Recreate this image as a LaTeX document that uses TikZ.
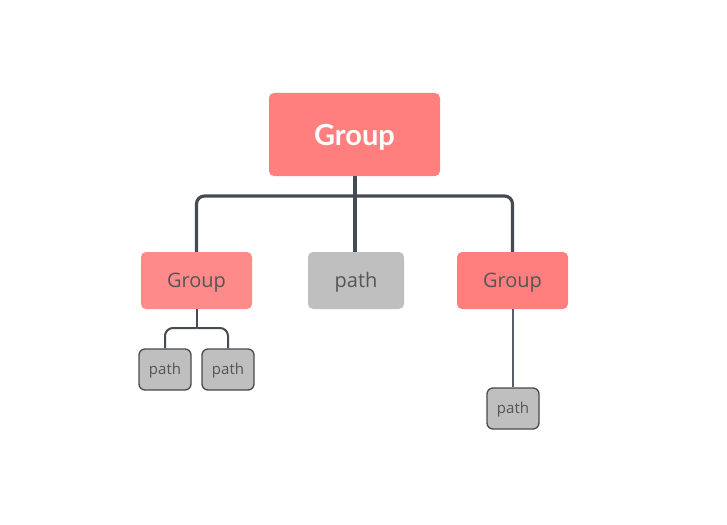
\documentclass[tikz,border=0pt]{standalone}
\usepackage{fontspec}
\setmainfont{Open Sans}
\newfontfamily\rootfont{Lato}
\definecolor{rootred}{HTML}{FF7F7F}
\definecolor{lightred}{HTML}{FF8A8A}
\definecolor{pathgray}{HTML}{BFBFBF}
\definecolor{linedark}{HTML}{454B52}
\definecolor{linemid}{HTML}{575E68}
\definecolor{txtgray}{HTML}{555555}
\newcommand{\dn}[2]{\raisebox{-#1pt}[\height][\depth]{#2}}
\begin{document}
\begin{tikzpicture}[x=1pt,y=-1pt,
  rootbox/.style={fill=rootred,rounded corners=5pt,inner sep=0pt,text=white,font=\rootfont\bfseries\fontsize{29}{33}\selectfont},
  groupbox/.style={rounded corners=5pt,inner sep=0pt,minimum width=111pt,minimum height=57pt,text=txtgray,font=\fontsize{20}{24}\selectfont},
  midpath/.style={fill=pathgray,rounded corners=5pt,inner sep=0pt,minimum width=96pt,minimum height=57pt,text=txtgray,font=\fontsize{20}{24}\selectfont},
  leafbox/.style={fill=pathgray,draw=linedark,line width=1.3pt,rounded corners=6pt,inner sep=0pt,minimum width=52pt,minimum height=41pt,text=txtgray,font=\fontsize{15}{18}\selectfont},
  thick link/.style={draw=linedark,line width=3.2pt,rounded corners=8pt},
  thin link/.style={draw=linedark,line width=2pt,rounded corners=8pt}]
\useasboundingbox (0,0) rectangle (727,524);
\node[rootbox,minimum width=171pt,minimum height=83pt] (root) at (354.5,134.5) {\dn{3}{Group}};
\node[groupbox,fill=lightred] (g1) at (196.5,280.5) {\dn{2}{Group}};
\node[midpath] (p) at (356,280.5) {\dn{2}{path}};
\node[groupbox,fill=rootred] (g2) at (512.5,280.5) {\dn{2}{Group}};
\node[leafbox] (l1) at (165,369.5) {\dn{1.5}{path}};
\node[leafbox] (l2) at (228,369.5) {\dn{1.5}{path}};
\node[leafbox] (l3) at (513,408.5) {\dn{1.5}{path}};
\coordinate (j0) at (355,196);
\draw[thick link] (root.south -| j0) -- (j0);
\draw[thick link] (j0) -- (196.5,196) -- (g1.north);
\draw[thick link] (j0) -- (512.5,196) -- (g2.north);
\draw[thick link] (j0) -- (p.north -| j0);
\coordinate (j1) at (196.5,328);
\draw[thin link] (g1.south) -- (j1);
\draw[thin link] (j1) -- (165,328) -- (l1.north);
\draw[thin link] (j1) -- (228,328) -- (l2.north);
\draw[draw=linemid,line width=2pt] (g2.south -| l3.north) -- (l3.north);
\end{tikzpicture}
\end{document}
